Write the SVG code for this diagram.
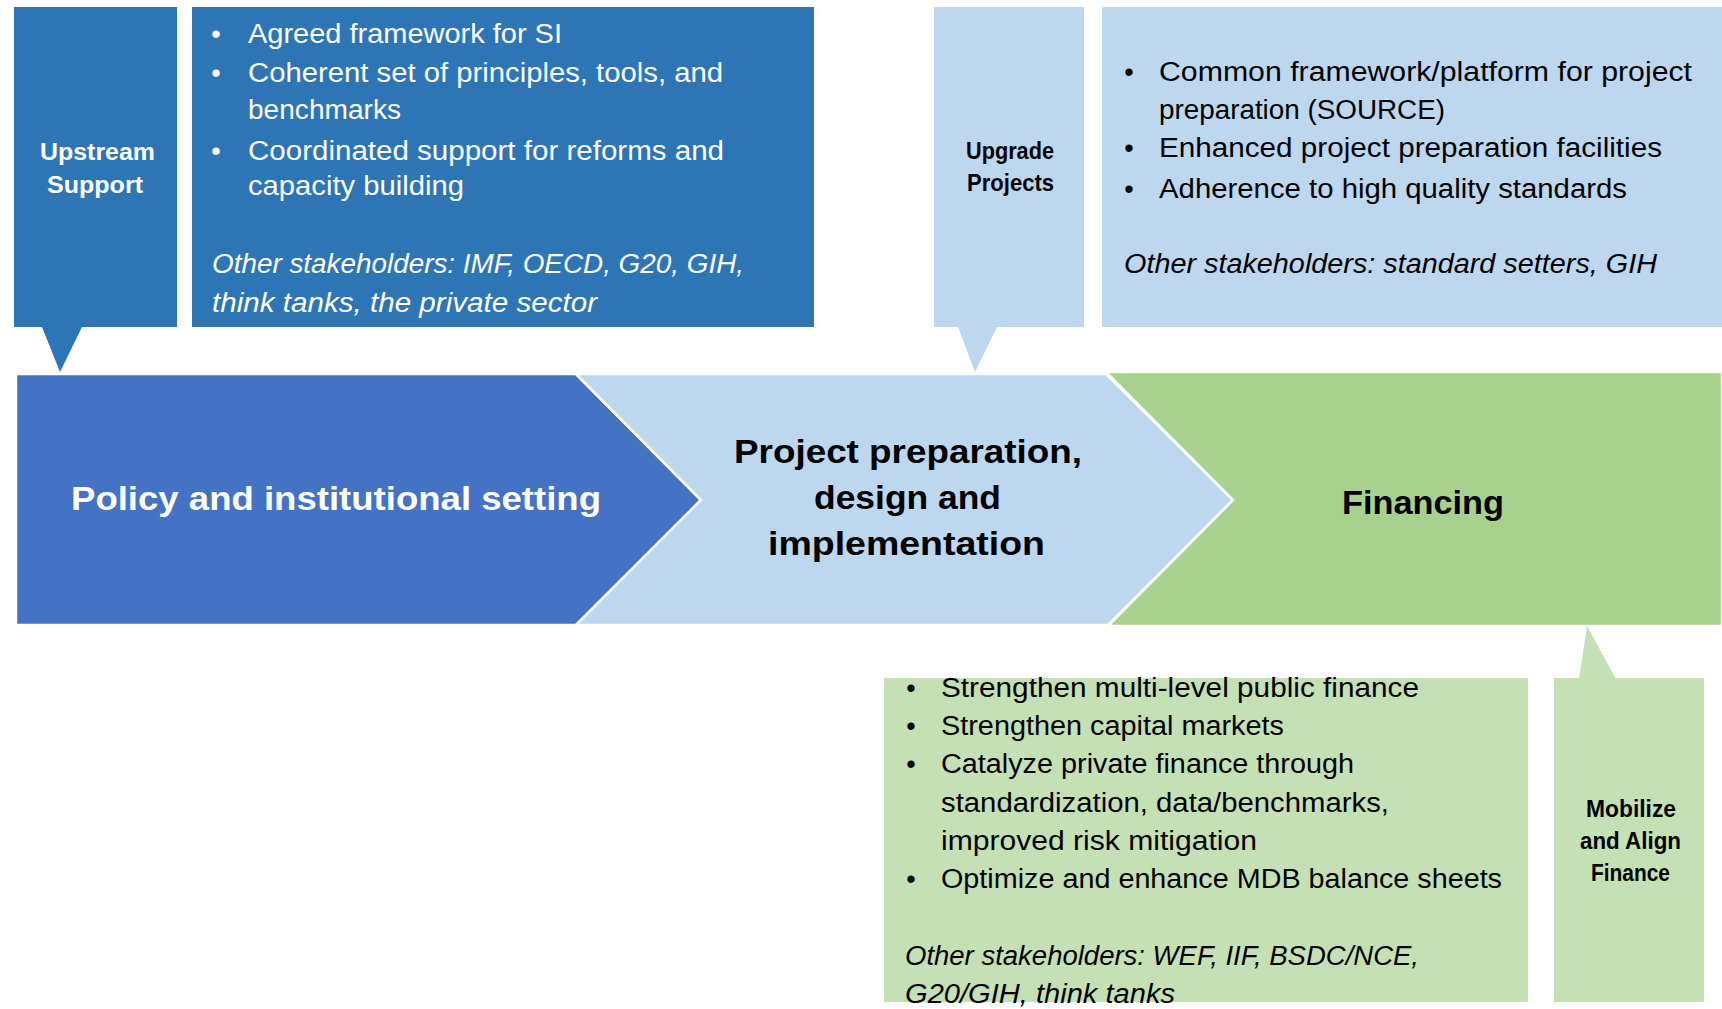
<svg xmlns="http://www.w3.org/2000/svg" width="1722" height="1009" viewBox="0 0 1722 1009">
  <style>
    text { font-family: "Liberation Sans", Arial, sans-serif; }
    .body { font-size: 27px; }
    .it { font-size: 27px; font-style: italic; }
    .lbl { font-size: 23px; font-weight: bold; }
    .title { font-size: 34px; font-weight: bold; }
    .w { fill: #ffffff; }
    .k { fill: #000000; }
    .dark { fill: #2E75B6; }
    .pale { fill: #BDD7EE; }
    .mint { fill: #C5E0B4; }
  </style>
  <rect width="1722" height="1009" fill="#ffffff"/>

  <!-- process chevrons -->
  <g id="stage-policy">
    <polygon points="16,374 576,374 701,500 576,625 16,625" fill="#4472C4" stroke="#ffffff" stroke-width="2.5"/>
    <text class="title w" x="71" y="510" textLength="530" lengthAdjust="spacingAndGlyphs">Policy and institutional  setting</text>
  </g>
  <g id="stage-project">
    <polygon points="576,374 1106,374 1233,500 1108,625 576,625 701,500" fill="#BDD7EE" stroke="#ffffff" stroke-width="2.5"/>
    <text class="title k" x="734" y="463" textLength="348" lengthAdjust="spacingAndGlyphs">Project  preparation,</text>
    <text class="title k" x="814" y="509" textLength="187" lengthAdjust="spacingAndGlyphs">design and</text>
    <text class="title k" x="768" y="555" textLength="277" lengthAdjust="spacingAndGlyphs">implementation</text>
  </g>
  <g id="stage-financing">
    <polygon points="1106,372 1722,372 1722,626 1108,626 1233,500" fill="#A9D18E" stroke="#ffffff" stroke-width="2.5"/>
    <text class="title k" x="1342" y="514" textLength="162" lengthAdjust="spacingAndGlyphs">Financing</text>
  </g>

  <!-- callout tails linking the labels to the stages -->
  <g id="connectors">
    <polygon class="dark" points="42,327 82,327 60,372"/>
    <polygon class="pale" points="958,327 997,327 975,372"/>
    <polygon class="mint" points="1579,679 1616,679 1587,626"/>
  </g>

  <!-- upstream support -->
  <g id="label-upstream">
    <rect class="dark" x="14" y="7" width="163" height="320"/>
    <text class="lbl w" x="40" y="160" textLength="115" lengthAdjust="spacingAndGlyphs">Upstream</text>
    <text class="lbl w" x="47" y="193" textLength="96" lengthAdjust="spacingAndGlyphs">Support</text>
  </g>
  <g id="notes-upstream">
    <rect class="dark" x="192" y="7" width="622" height="320"/>
    <text class="body w" x="216" y="43" text-anchor="middle">•</text>
    <text class="body w" x="248" y="43" textLength="314" lengthAdjust="spacingAndGlyphs">Agreed framework  for SI</text>
    <text class="body w" x="216" y="82" text-anchor="middle">•</text>
    <text class="body w" x="248" y="82" textLength="475" lengthAdjust="spacingAndGlyphs">Coherent set of principles, tools, and</text>
    <text class="body w" x="248" y="119" textLength="153" lengthAdjust="spacingAndGlyphs">benchmarks</text>
    <text class="body w" x="216" y="160" text-anchor="middle">•</text>
    <text class="body w" x="248" y="160" textLength="476" lengthAdjust="spacingAndGlyphs">Coordinated support for reforms  and</text>
    <text class="body w" x="248" y="195" textLength="216" lengthAdjust="spacingAndGlyphs">capacity building</text>
    <text class="it w" x="212" y="273" textLength="532" lengthAdjust="spacingAndGlyphs">Other stakeholders: IMF, OECD, G20, GIH,</text>
    <text class="it w" x="212" y="312" textLength="385" lengthAdjust="spacingAndGlyphs">think tanks, the private sector</text>
  </g>

  <!-- upgrade projects -->
  <g id="label-upgrade">
    <rect class="pale" x="934" y="7" width="150" height="320"/>
    <text class="lbl k" x="966" y="159" textLength="88" lengthAdjust="spacingAndGlyphs">Upgrade</text>
    <text class="lbl k" x="967" y="191" textLength="87" lengthAdjust="spacingAndGlyphs">Projects</text>
  </g>
  <g id="notes-upgrade">
    <rect class="pale" x="1102" y="7" width="620" height="320"/>
    <text class="body k" x="1129" y="81" text-anchor="middle">•</text>
    <text class="body k" x="1159" y="81" textLength="533" lengthAdjust="spacingAndGlyphs">Common  framework/platform  for project</text>
    <text class="body k" x="1159" y="119" textLength="286" lengthAdjust="spacingAndGlyphs">preparation (SOURCE)</text>
    <text class="body k" x="1129" y="157" text-anchor="middle">•</text>
    <text class="body k" x="1159" y="157" textLength="503" lengthAdjust="spacingAndGlyphs">Enhanced project preparation facilities</text>
    <text class="body k" x="1129" y="198" text-anchor="middle">•</text>
    <text class="body k" x="1159" y="198" textLength="468" lengthAdjust="spacingAndGlyphs">Adherence to high quality standards</text>
    <text class="it k" x="1124" y="273" textLength="533" lengthAdjust="spacingAndGlyphs">Other stakeholders: standard setters, GIH</text>
  </g>

  <!-- mobilize and align finance -->
  <g id="notes-finance">
    <rect class="mint" x="884" y="678" width="644" height="324"/>
    <text class="body k" x="911" y="697" text-anchor="middle">•</text>
    <text class="body k" x="941" y="697" textLength="478" lengthAdjust="spacingAndGlyphs">Strengthen  multi-level public finance</text>
    <text class="body k" x="911" y="735" text-anchor="middle">•</text>
    <text class="body k" x="941" y="735" textLength="343" lengthAdjust="spacingAndGlyphs">Strengthen capital markets</text>
    <text class="body k" x="911" y="773" text-anchor="middle">•</text>
    <text class="body k" x="941" y="773" textLength="413" lengthAdjust="spacingAndGlyphs">Catalyze private finance through</text>
    <text class="body k" x="941" y="812" textLength="448" lengthAdjust="spacingAndGlyphs">standardization, data/benchmarks,</text>
    <text class="body k" x="941" y="850" textLength="316" lengthAdjust="spacingAndGlyphs">improved  risk mitigation</text>
    <text class="body k" x="911" y="888" text-anchor="middle">•</text>
    <text class="body k" x="941" y="888" textLength="561" lengthAdjust="spacingAndGlyphs">Optimize and enhance MDB balance sheets</text>
    <text class="it k" x="905" y="965" textLength="514" lengthAdjust="spacingAndGlyphs">Other stakeholders: WEF, IIF, BSDC/NCE,</text>
    <text class="it k" x="905" y="1003" textLength="270" lengthAdjust="spacingAndGlyphs">G20/GIH, think tanks</text>
  </g>
  <g id="label-mobilize">
    <rect class="mint" x="1554" y="678" width="150" height="324"/>
    <text class="lbl k" x="1586" y="817" textLength="90" lengthAdjust="spacingAndGlyphs">Mobilize</text>
    <text class="lbl k" x="1580" y="849" textLength="101" lengthAdjust="spacingAndGlyphs">and Align</text>
    <text class="lbl k" x="1591" y="881" textLength="79" lengthAdjust="spacingAndGlyphs">Finance</text>
  </g>
</svg>
